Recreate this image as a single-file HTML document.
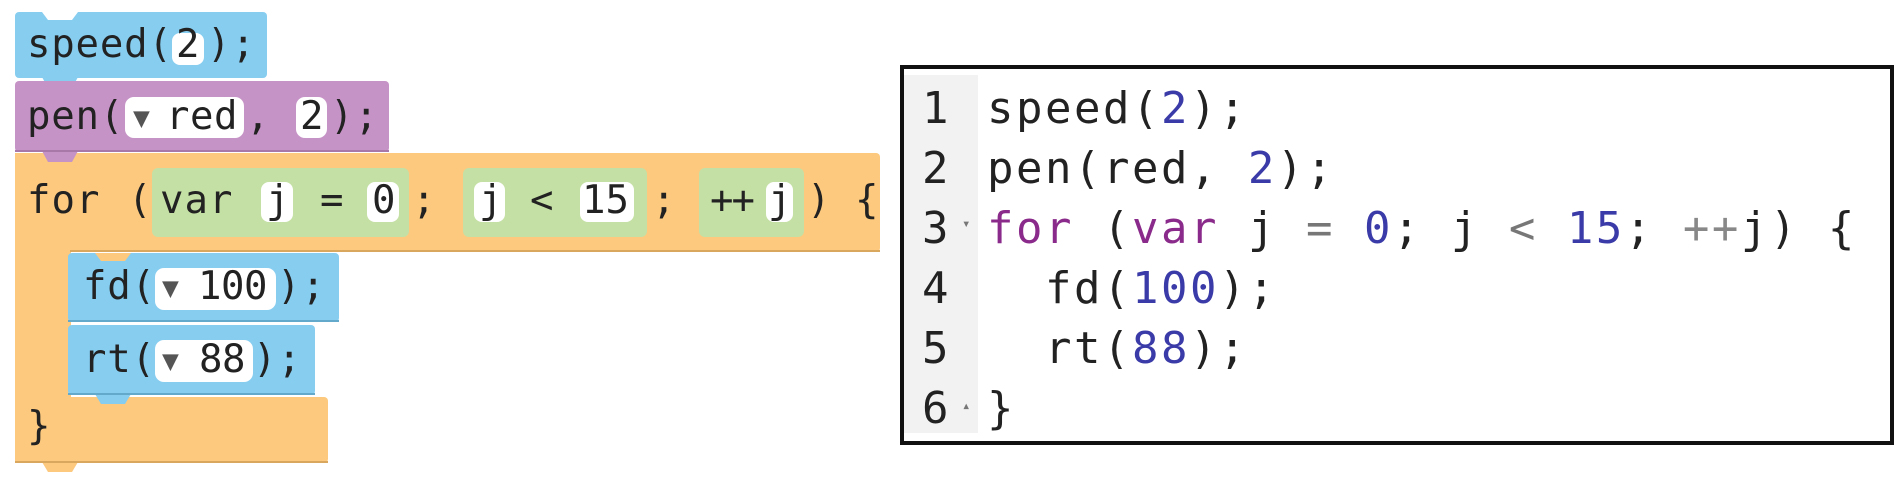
<!DOCTYPE html>
<html><head><meta charset="utf-8"><style>
html,body{margin:0;padding:0;background:#fff;width:1900px;height:500px;overflow:hidden}
svg{display:block}
text{font-family:"DejaVu Sans Mono","Liberation Mono",monospace}
</style></head><body>
<svg width="1900" height="500" viewBox="0 0 1900 500" xmlns="http://www.w3.org/2000/svg">
<g fill="#fcc97e">
<rect x="15" y="153" width="865" height="99" rx="4"/>
<rect x="15" y="153" width="56" height="310"/>
<rect x="15" y="397" width="313" height="66" rx="4"/>
<path d="M42 462 L48 472 L72 472 L78 462Z"/>
</g>
<rect x="70" y="250" width="810" height="2" fill="#d9a85e"/>
<rect x="15" y="461" width="313" height="2" fill="#d9a85e"/>
<g fill="#86cdf0">
<rect x="15" y="12" width="252" height="66" rx="4"/>
<path d="M42 77 L48 88 L72 88 L78 77Z"/>
</g>
<path d="M42 12 L48 20 L72 20 L78 12Z" fill="#fff"/>
<g fill="#c693c6">
<rect x="15" y="81" width="374" height="71" rx="4"/>
<path d="M42 151 L48 162 L72 162 L78 151Z"/>
</g>
<rect x="15" y="150" width="374" height="2" fill="#a878a8"/>
<g fill="#86cdf0">
<rect x="68" y="253" width="271" height="69" rx="4"/>
<rect x="68" y="325" width="247" height="70" rx="4"/>
<path d="M95 394 L101 404 L125 404 L131 394Z"/>
</g>
<path d="M95 253 L101 261 L125 261 L131 253Z" fill="#fcc97e"/>
<rect x="68" y="320" width="271" height="2" fill="#62a9cc"/>
<rect x="68" y="393" width="247" height="2" fill="#62a9cc"/>
<g fill="#c5e0a5">
<rect x="152" y="168" width="257" height="69" rx="6"/>
<rect x="463" y="168" width="184" height="69" rx="6"/>
<rect x="699" y="168" width="105" height="69" rx="6"/>
</g>
<g fill="#fff">
<rect x="172" y="33" width="32" height="32" rx="8"/>
<rect x="125" y="97" width="119" height="41" rx="9"/>
<rect x="296" y="97" width="31" height="41" rx="9"/>
<rect x="261" y="182" width="32" height="40" rx="8"/>
<rect x="367" y="182" width="32" height="40" rx="8"/>
<rect x="474" y="182" width="31" height="40" rx="8"/>
<rect x="580" y="182" width="54" height="40" rx="8"/>
<rect x="766" y="182" width="27" height="40" rx="8"/>
<rect x="155" y="268" width="121" height="42" rx="9"/>
<rect x="155" y="340" width="98" height="42" rx="9"/>
</g>
<g font-size="39" fill="#222">
<text x="27" y="57" letter-spacing="0.8">speed(</text>
<text x="176" y="57">2</text>
<text x="207" y="57" letter-spacing="1">);</text>
<text x="27" y="129" letter-spacing="0.8">pen(</text>
<text x="133" y="127" font-size="28" fill="#555">▼</text>
<text x="166" y="129" letter-spacing="0.5">red</text>
<text x="246" y="129">,</text>
<text x="300" y="129">2</text>
<text x="330" y="129" letter-spacing="1">);</text>
<text x="27" y="213" letter-spacing="1">for</text>
<text x="128" y="213">(</text>
<text x="160" y="213" letter-spacing="1">var</text>
<text x="266" y="213">j</text>
<text x="320" y="213">=</text>
<text x="372" y="213">0</text>
<text x="412" y="213">;</text>
<text x="479" y="213">j</text>
<text x="530" y="213">&lt;</text>
<text x="582" y="213" letter-spacing="0">15</text>
<text x="652" y="213">;</text>
<text x="710" y="213" letter-spacing="-2">++</text>
<text x="768" y="213">j</text>
<text x="807" y="213">)</text>
<text x="855" y="213">{</text>
<text x="83" y="299" letter-spacing="0.8">fd(</text>
<text x="162" y="297" font-size="28" fill="#555">▼</text>
<text x="198" y="299" letter-spacing="-0.5">100</text>
<text x="277" y="299" letter-spacing="1">);</text>
<text x="83" y="372" letter-spacing="0.8">rt(</text>
<text x="162" y="370" font-size="28" fill="#555">▼</text>
<text x="199" y="372" letter-spacing="-0.5">88</text>
<text x="253" y="372" letter-spacing="1">);</text>
<text x="27" y="439">}</text>
</g>
<rect x="900" y="75" width="78" height="358" fill="#f2f2f2"/>
<rect x="902" y="67" width="990" height="376" fill="none" stroke="#111" stroke-width="4"/>
<g font-size="44" fill="#222" letter-spacing="2.5">
<text x="922" y="123">1</text>
<text x="922" y="183">2</text>
<text x="922" y="243">3</text>
<text x="922" y="303">4</text>
<text x="922" y="363">5</text>
<text x="922" y="423">6</text>
<text x="962" y="228" font-size="14" fill="#777">▾</text>
<text x="962" y="410" font-size="14" fill="#777">▴</text>
<text x="987" y="123">speed(<tspan fill="#3a3aa8">2</tspan>);</text>
<text x="987" y="183">pen(red, <tspan fill="#3a3aa8">2</tspan>);</text>
<text x="987" y="243"><tspan fill="#8a2a8a">for</tspan> (<tspan fill="#8a2a8a">var</tspan> j <tspan fill="#777">=</tspan> <tspan fill="#3a3aa8">0</tspan>; j <tspan fill="#777">&lt;</tspan> <tspan fill="#3a3aa8">15</tspan>; <tspan fill="#888">++</tspan>j) {</text>
<text x="1045" y="303">fd(<tspan fill="#3a3aa8">100</tspan>);</text>
<text x="1045" y="363">rt(<tspan fill="#3a3aa8">88</tspan>);</text>
<text x="987" y="423">}</text>
</g>
</svg>
</body></html>
